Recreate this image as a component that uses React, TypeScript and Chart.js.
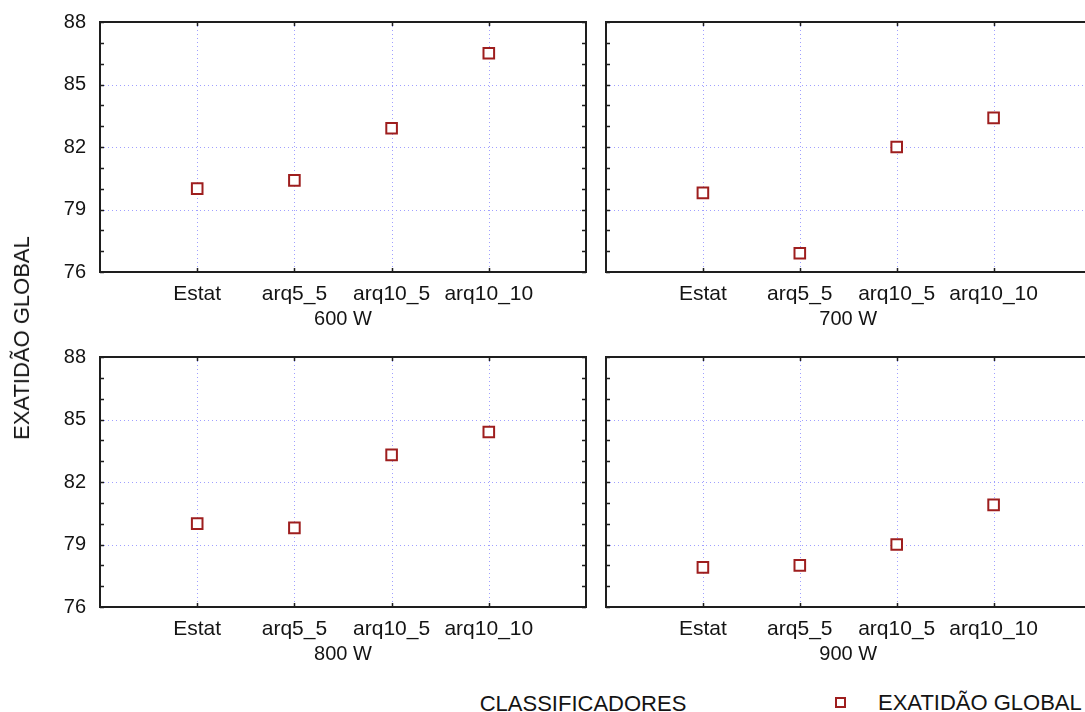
import React, { useEffect, useRef } from 'react';
import { Chart, registerables } from 'chart.js';

Chart.register(...registerables);

// ---- data ----
const categories = ['Estat', 'arq5_5', 'arq10_5', 'arq10_10'];
const panelTitles = ['600 W', '700 W', '800 W', '900 W'];
const acc600 = [80.0, 80.4, 82.9, 86.5];
const acc700 = [79.8, 76.9, 82.0, 83.4];
const acc800 = [80.0, 79.8, 83.3, 84.4];
const acc900 = [77.9, 78.0, 79.0, 80.9];
const yTicks = [76, 79, 82, 85, 88];
const yMinorStep = 1;
const seriesName = 'EXATIDÃO GLOBAL';
const xAxisName = 'CLASSIFICADORES';

const FONT = "'Liberation Sans', Arial, sans-serif";
const TEXT = '#141414';
const MARK = '#9e1e1e';

const framePlugin = {
  id: 'frame',
  beforeDatasetsDraw(chart: any) {
    const { ctx, chartArea: a, scales } = chart;
    const xs = scales.x;
    const ys = scales.y;
    ctx.save();
    ctx.strokeStyle = '#a0a0ff';
    ctx.lineWidth = 1;
    ctx.setLineDash([1, 3]);
    yTicks.slice(1, -1).forEach((v) => {
      const py = Math.round(ys.getPixelForValue(v)) + 0.5;
      ctx.beginPath();
      ctx.moveTo(a.left, py);
      ctx.lineTo(a.right, py);
      ctx.stroke();
    });
    categories.forEach((_, i) => {
      const px = Math.round(xs.getPixelForValue(i + 1)) + 0.5;
      ctx.beginPath();
      ctx.moveTo(px, a.top);
      ctx.lineTo(px, a.bottom);
      ctx.stroke();
    });
    ctx.restore();
  },
  afterDatasetsDraw(chart: any) {
    const { ctx, chartArea: a, scales } = chart;
    const xs = scales.x;
    const ys = scales.y;
    ctx.save();
    ctx.strokeStyle = '#1e1e1e';
    ctx.setLineDash([]);
    ctx.lineWidth = 1.5;
    const tl = 4;
    const yMin = yTicks[0];
    const yMax = yTicks[yTicks.length - 1];
    for (let v = yMin; v <= yMax; v += yMinorStep) {
      const py = Math.round(ys.getPixelForValue(v)) + 0.5;
      ctx.beginPath();
      ctx.moveTo(a.left, py);
      ctx.lineTo(a.left + tl, py);
      ctx.moveTo(a.right, py);
      ctx.lineTo(a.right - tl, py);
      ctx.stroke();
    }
    categories.forEach((_, i) => {
      const px = Math.round(xs.getPixelForValue(i + 1)) + 0.5;
      ctx.beginPath();
      ctx.moveTo(px, a.top);
      ctx.lineTo(px, a.top + tl);
      ctx.moveTo(px, a.bottom);
      ctx.lineTo(px, a.bottom - tl);
      ctx.stroke();
    });
    ctx.lineWidth = 2;
    ctx.strokeRect(a.left, a.top, a.right - a.left, a.bottom - a.top);
    ctx.restore();
  },
};

type PanelProps = {
  values: number[];
  title: string;
  showY: boolean;
  left: number;
  top: number;
  width: number;
  height: number;
  yWidth: number;
  padRight: number;
};

function Panel({ values, title, showY, left, top, width, height, yWidth, padRight }: PanelProps) {
  const ref = useRef<HTMLCanvasElement | null>(null);
  useEffect(() => {
    if (!ref.current) return;
    const chart = new Chart(ref.current, {
      type: 'scatter',
      data: {
        datasets: [
          {
            label: seriesName,
            data: values.map((v, i) => ({ x: i + 1, y: v })),
            pointStyle: 'rect',
            pointRadius: 7.5,
            pointHoverRadius: 7.5,
            pointBorderWidth: 2,
            borderColor: MARK,
            backgroundColor: '#ffffff',
            pointBackgroundColor: '#ffffff',
            pointBorderColor: MARK,
          },
        ],
      },
      options: {
        animation: false,
        responsive: true,
        maintainAspectRatio: false,
        events: [],
        layout: { padding: { left: 0, right: padRight, top: 22, bottom: 0 } },
        plugins: { legend: { display: false }, tooltip: { enabled: false } },
        scales: {
          x: {
            type: 'linear',
            min: 0,
            max: 5,
            grid: { display: false, drawTicks: false },
            border: { display: false },
            ticks: {
              stepSize: 1,
              autoSkip: false,
              maxRotation: 0,
              minRotation: 0,
              padding: 10,
              font: { family: FONT, size: 21 },
              color: TEXT,
              callback: (v: any) => categories[Number(v) - 1] ?? '',
            },
            title: {
              display: true,
              text: title,
              font: { family: FONT, size: 20 },
              color: TEXT,
              padding: { top: 0, bottom: 9 },
            },
            afterFit: (s: any) => {
              s.height = 68;
              s.paddingLeft = 0;
              s.paddingRight = 0;
            },
          },
          y: {
            min: yTicks[0],
            max: yTicks[yTicks.length - 1],
            grid: { display: false, drawTicks: false },
            border: { display: false },
            ticks: {
              stepSize: 3,
              display: showY,
              padding: 14,
              font: { family: FONT, size: 20 },
              color: TEXT,
            },
            afterFit: (s: any) => {
              s.width = yWidth;
              s.paddingTop = 0;
              s.paddingBottom = 0;
            },
          },
        },
      },
      plugins: [framePlugin],
    } as any);
    return () => chart.destroy();
  }, [values, title, showY, yWidth, padRight]);
  return (
    <div style={{ position: 'absolute', left, top, width, height }}>
      <canvas ref={ref} />
    </div>
  );
}

export default function App() {
  const textStyle: React.CSSProperties = {
    position: 'absolute',
    fontFamily: FONT,
    fontSize: 22,
    lineHeight: '26px',
    color: TEXT,
    whiteSpace: 'nowrap',
  };
  return (
    <div
      style={{
        position: 'fixed',
        left: 0,
        top: 0,
        width: 1085,
        height: 712,
        overflow: 'hidden',
        background: '#ffffff',
      }}
    >
      <Panel values={acc600} title={panelTitles[0]} showY left={0} top={0} width={600} height={340} yWidth={100} padRight={14} />
      <Panel values={acc700} title={panelTitles[1]} showY={false} left={590} top={0} width={510} height={340} yWidth={16} padRight={7} />
      <Panel values={acc800} title={panelTitles[2]} showY left={0} top={335} width={600} height={340} yWidth={100} padRight={14} />
      <Panel values={acc900} title={panelTitles[3]} showY={false} left={590} top={335} width={510} height={340} yWidth={16} padRight={7} />
      <div
        style={{
          ...textStyle,
          left: 22,
          top: 338,
          transform: 'translate(-50%, -50%) rotate(-90deg)',
        }}
      >
        {seriesName}
      </div>
      <div style={{ ...textStyle, left: 583, top: 704, transform: 'translate(-50%, -50%)' }}>{xAxisName}</div>
      <div
        style={{
          position: 'absolute',
          left: 835,
          top: 697,
          width: 7,
          height: 7,
          border: `2px solid ${MARK}`,
          background: '#fff',
        }}
      />
      <div style={{ ...textStyle, left: 878, top: 703, transform: 'translateY(-50%)' }}>{seriesName}</div>
    </div>
  );
}
